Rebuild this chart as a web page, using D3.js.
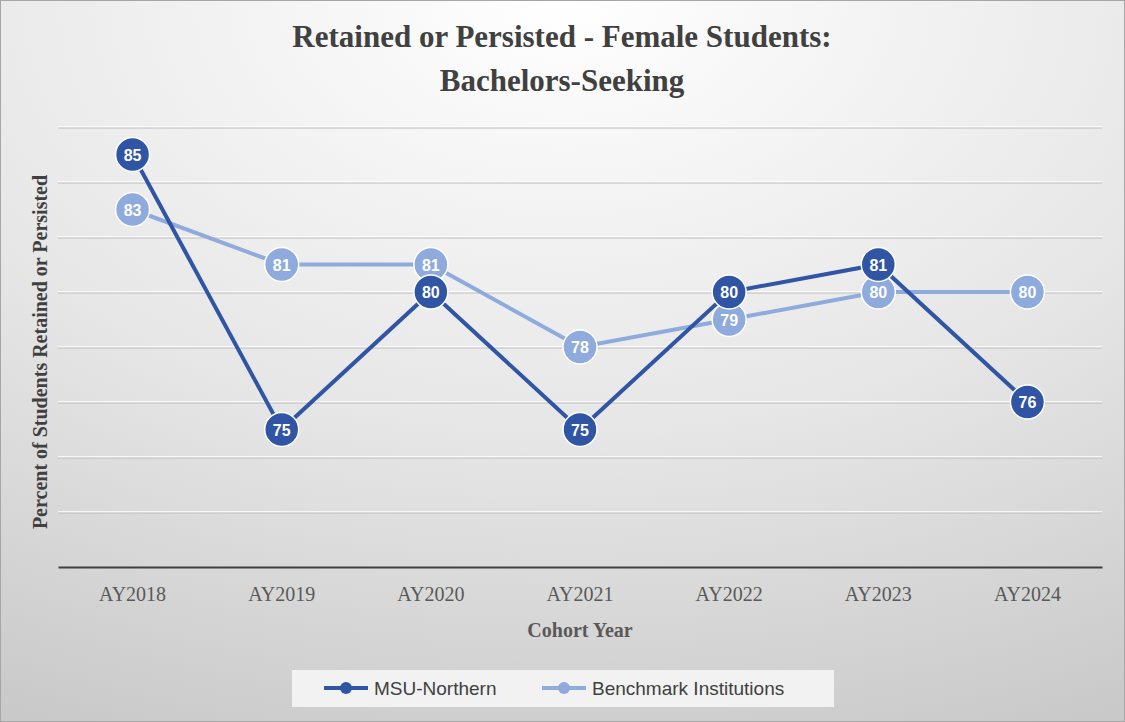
<!DOCTYPE html>
<html><head><meta charset="utf-8">
<script src="https://cdn.jsdelivr.net/npm/d3@7"></script>
<style>body{margin:0;background:#fff}</style>
</head><body>
<svg id="c" width="1125" height="722"></svg>
<script>
const categories=["AY2018","AY2019","AY2020","AY2021","AY2022","AY2023","AY2024"];
const msu=[85,75,80,75,80,81,76];
const bench=[83,81,81,78,79,80,80];
const yTicks=[70,72,74,76,78,80,82,84,86];
const seriesNames=["MSU-Northern","Benchmark Institutions"];

const svg=d3.select("#c");
const defs=svg.append("defs");
const g=defs.append("radialGradient").attr("id","bg").attr("cx","0.5").attr("cy","0").attr("r","1.1");
g.append("stop").attr("offset","0").attr("stop-color","#ffffff");
g.append("stop").attr("offset","0.55").attr("stop-color","#e6e6e6");
g.append("stop").attr("offset","1").attr("stop-color","#c9c9c9");
svg.append("rect").attr("x",0.5).attr("y",0.5).attr("width",1124).attr("height",721).attr("fill","url(#bg)").attr("stroke","#a6a6a6");

const x=d3.scaleBand().domain(categories).range([58,1102]);
const y=d3.scaleLinear().domain([70,86]).range([567,127]);
const cx=d=>x(d)+x.bandwidth()/2;

svg.append("g").selectAll("line").data(yTicks.slice(1)).join("line")
 .attr("x1",58).attr("x2",1102).attr("y1",d=>y(d)).attr("y2",d=>y(d)).attr("stroke","#ffffff").attr("stroke-width",1.5);
svg.append("g").selectAll("line").data(yTicks.slice(1)).join("line")
 .attr("x1",58).attr("x2",1102).attr("y1",d=>y(d)+1).attr("y2",d=>y(d)+1).attr("stroke","#bcbcbc").attr("stroke-width",1);
const xa=svg.append("g").attr("transform","translate(0,567)").call(d3.axisBottom(x).tickSize(0).tickPadding(20));
xa.select(".domain").attr("stroke","#404040").attr("stroke-width",2);
xa.selectAll("text").attr("font-family","Liberation Serif").attr("font-size",20).attr("fill","#595959");

svg.append("text").attr("x",562).attr("y",47).attr("text-anchor","middle").attr("font-family","Liberation Serif").attr("font-weight","bold").attr("font-size",31).attr("fill","#404040").text("Retained or Persisted - Female Students:");
svg.append("text").attr("x",562).attr("y",91).attr("text-anchor","middle").attr("font-family","Liberation Serif").attr("font-weight","bold").attr("font-size",31).attr("fill","#404040").text("Bachelors-Seeking");
svg.append("text").attr("x",580).attr("y",637).attr("text-anchor","middle").attr("font-family","Liberation Serif").attr("font-weight","bold").attr("font-size",20).attr("fill","#595959").text("Cohort Year");
svg.append("text").attr("transform","translate(47,352) rotate(-90)").attr("text-anchor","middle").attr("font-family","Liberation Serif").attr("font-weight","bold").attr("font-size",20).attr("fill","#404040").text("Percent of  Students Retained or Persisted");

const series=[{v:bench,c:"#8FAADC",name:seriesNames[1]},{v:msu,c:"#2F55A4",name:seriesNames[0]}];
const line=d3.line().x((d,i)=>cx(categories[i])).y(d=>y(d));
series.forEach(s=>{
 svg.append("path").attr("d",line(s.v)).attr("fill","none").attr("stroke",s.c).attr("stroke-width",4);
});
series.forEach(s=>{
 const gg=svg.append("g");
 gg.selectAll("circle").data(s.v).join("circle").attr("cx",(d,i)=>cx(categories[i])).attr("cy",d=>y(d)).attr("r",17).attr("fill",s.c).attr("stroke","#fff").attr("stroke-width",1.5);
 gg.selectAll("text").data(s.v).join("text").attr("x",(d,i)=>cx(categories[i])).attr("y",d=>y(d)+6).attr("text-anchor","middle").attr("font-family","Liberation Sans").attr("font-weight","bold").attr("font-size",16).attr("fill","#fff").text(d=>d);
});

svg.append("rect").attr("x",292).attr("y",670).attr("width",542).attr("height",37).attr("fill","#f2f2f2");
[[seriesNames[0],"#2F55A4",324],[seriesNames[1],"#8FAADC",542]].forEach(([n,c,lx])=>{
 svg.append("line").attr("x1",lx).attr("x2",lx+44).attr("y1",688).attr("y2",688).attr("stroke",c).attr("stroke-width",4);
 svg.append("circle").attr("cx",lx+22).attr("cy",688).attr("r",6).attr("fill",c);
 svg.append("text").attr("x",lx+50).attr("y",695).attr("font-family","Liberation Sans").attr("font-size",19).attr("fill","#404040").text(n);
});
</script>
</body></html>
